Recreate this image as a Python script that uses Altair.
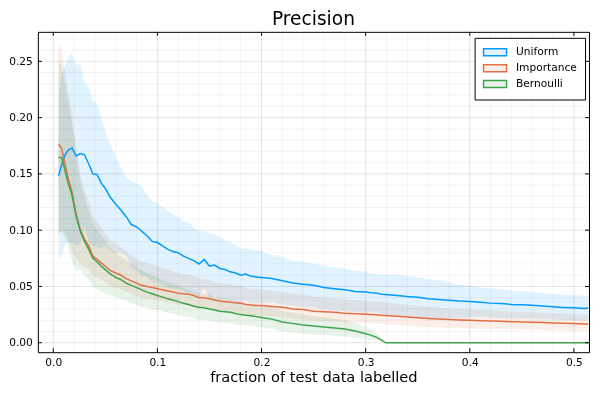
import altair as alt
import pandas as pd

# ---------------- data ----------------
x_frac = [0.005, 0.008, 0.011, 0.014, 0.018, 0.022, 0.026, 0.030, 0.034, 0.038,
          0.042, 0.046, 0.050, 0.055, 0.060, 0.065, 0.070, 0.075, 0.080, 0.085,
          0.090, 0.095, 0.100, 0.105, 0.110, 0.115, 0.120, 0.125, 0.130, 0.135,
          0.140, 0.145, 0.150, 0.155, 0.160, 0.165, 0.170, 0.175, 0.180, 0.185,
          0.190, 0.195, 0.200, 0.21, 0.22, 0.23, 0.24, 0.25, 0.26, 0.27,
          0.28, 0.29, 0.30, 0.305, 0.31, 0.315, 0.319, 0.33, 0.34, 0.35,
          0.36, 0.37, 0.38, 0.39, 0.40, 0.41, 0.42, 0.43, 0.44, 0.45,
          0.46, 0.47, 0.48, 0.49, 0.50, 0.51, 0.514]

uniform_mean = [0.148, 0.158, 0.166, 0.171, 0.173, 0.166, 0.168, 0.167, 0.159, 0.150,
                0.1495, 0.142, 0.137, 0.129, 0.123, 0.118, 0.112, 0.105, 0.103, 0.099,
                0.095, 0.090, 0.089, 0.086, 0.083, 0.081, 0.080, 0.077, 0.075, 0.073,
                0.070, 0.074, 0.068, 0.069, 0.066, 0.065, 0.063, 0.062, 0.060, 0.061,
                0.059, 0.0585, 0.058, 0.057, 0.055, 0.053, 0.052, 0.051, 0.049, 0.048,
                0.047, 0.0455, 0.045, 0.0445, 0.0443, 0.043, 0.0428, 0.042, 0.041, 0.0405,
                0.039, 0.0385, 0.0378, 0.037, 0.0366, 0.036, 0.0352, 0.0348, 0.034, 0.0337,
                0.0333, 0.0327, 0.032, 0.0314, 0.031, 0.0305, 0.031]
# symmetric half-width of the Uniform ribbon
uniform_sd = [0.074, 0.080, 0.080, 0.082, 0.084, 0.080, 0.080, 0.064, 0.069, 0.064,
              0.064, 0.058, 0.051, 0.047, 0.043, 0.038, 0.035, 0.038, 0.039, 0.040,
              0.036, 0.036, 0.035, 0.035, 0.034, 0.033, 0.032, 0.031, 0.032, 0.029,
              0.029, 0.025, 0.029, 0.027, 0.028, 0.026, 0.026, 0.025, 0.024, 0.023,
              0.024, 0.023, 0.023, 0.021, 0.021, 0.020, 0.020, 0.0195, 0.019, 0.019,
              0.019, 0.018, 0.0185, 0.017, 0.017, 0.0175, 0.0177, 0.0186, 0.018, 0.0175,
              0.0174, 0.017, 0.016, 0.0145, 0.014, 0.013, 0.013, 0.0128, 0.0125, 0.012,
              0.0117, 0.0115, 0.0113, 0.0112, 0.0111, 0.0112, 0.011]

importance_mean = [0.1766, 0.1725, 0.160, 0.147, 0.134, 0.114, 0.100, 0.092, 0.086, 0.077,
                   0.074, 0.071, 0.068, 0.064, 0.062, 0.060, 0.057, 0.055, 0.053, 0.051,
                   0.050, 0.049, 0.048, 0.047, 0.046, 0.045, 0.044, 0.0435, 0.043, 0.042,
                   0.040, 0.040, 0.039, 0.038, 0.037, 0.0365, 0.036, 0.0355, 0.035, 0.034,
                   0.0335, 0.033, 0.033, 0.0322, 0.0315, 0.030, 0.0295, 0.028, 0.0275, 0.027,
                   0.0262, 0.0257, 0.0253, 0.025, 0.0248, 0.0245, 0.0243, 0.0235, 0.0228, 0.0222,
                   0.0216, 0.0212, 0.0207, 0.0203, 0.020, 0.0196, 0.0193, 0.019, 0.0187, 0.0184,
                   0.0182, 0.0179, 0.0176, 0.0173, 0.017, 0.0166, 0.0165]
# ribbon extent above / below the Importance mean
importance_up = [0.090, 0.088, 0.083, 0.078, 0.070, 0.060, 0.050, 0.044, 0.040, 0.036,
                 0.033, 0.031, 0.029, 0.027, 0.026, 0.025, 0.024, 0.023, 0.022, 0.0215,
                 0.021, 0.0205, 0.020, 0.0195, 0.019, 0.0186, 0.0182, 0.0178, 0.0175, 0.0172,
                 0.017, 0.0167, 0.0165, 0.0162, 0.016, 0.0157, 0.0155, 0.0153, 0.0151, 0.0149,
                 0.0147, 0.0146, 0.0145, 0.0142, 0.0139, 0.0136, 0.0133, 0.013, 0.0128, 0.0126,
                 0.0124, 0.0122, 0.012, 0.0119, 0.0118, 0.0117, 0.0116, 0.0113, 0.011, 0.0106,
                 0.0102, 0.0098, 0.0097, 0.0096, 0.0095, 0.0094, 0.0093, 0.0092, 0.0091, 0.009,
                 0.0089, 0.0088, 0.0087, 0.0086, 0.0086, 0.0085, 0.0085]
importance_down = [0.080, 0.072, 0.062, 0.055, 0.052, 0.040, 0.030, 0.025, 0.021, 0.018,
                   0.016, 0.015, 0.0145, 0.014, 0.013, 0.0125, 0.012, 0.0118, 0.0115, 0.0112,
                   0.011, 0.0108, 0.0105, 0.0104, 0.0103, 0.0102, 0.0101, 0.010, 0.0099, 0.0098,
                   0.0097, 0.0096, 0.0095, 0.0095, 0.0094, 0.0094, 0.0093, 0.0093, 0.0092, 0.0092,
                   0.0091, 0.0091, 0.009, 0.0089, 0.0088, 0.0087, 0.0086, 0.0085, 0.0084, 0.0083,
                   0.0082, 0.0081, 0.008, 0.008, 0.0079, 0.0079, 0.0078, 0.0078, 0.0077, 0.0077,
                   0.0076, 0.0075, 0.0074, 0.0073, 0.0072, 0.0071, 0.007, 0.0069, 0.0068, 0.0068,
                   0.0067, 0.0066, 0.0065, 0.0064, 0.0063, 0.0062, 0.006]

bernoulli_mean = [0.1645, 0.1645, 0.154, 0.143, 0.131, 0.112, 0.099, 0.090, 0.083, 0.075,
                  0.072, 0.068, 0.065, 0.061, 0.058, 0.056, 0.053, 0.051, 0.049, 0.047,
                  0.045, 0.0435, 0.042, 0.0405, 0.039, 0.038, 0.0365, 0.035, 0.034, 0.0325,
                  0.0315, 0.031, 0.030, 0.029, 0.028, 0.0275, 0.027, 0.026, 0.025, 0.0245,
                  0.024, 0.0232, 0.0225, 0.021, 0.0185, 0.0172, 0.0158, 0.0148, 0.014, 0.013,
                  0.0122, 0.0105, 0.008, 0.0068, 0.005, 0.0025, 0.0, 0.0, 0.0, 0.0,
                  0.0, 0.0, 0.0, 0.0, 0.0, 0.0, 0.0, 0.0, 0.0, 0.0,
                  0.0, 0.0, 0.0, 0.0, 0.0, 0.0, 0.0]
bernoulli_up = [0.085, 0.083, 0.078, 0.072, 0.064, 0.054, 0.045, 0.039, 0.035, 0.032,
                0.029, 0.027, 0.025, 0.023, 0.022, 0.021, 0.020, 0.019, 0.018, 0.0175,
                0.017, 0.0165, 0.016, 0.0155, 0.015, 0.0146, 0.0142, 0.0138, 0.0134, 0.013,
                0.0128, 0.0126, 0.0124, 0.0122, 0.012, 0.0118, 0.0116, 0.0114, 0.0112, 0.011,
                0.0108, 0.0107, 0.0106, 0.0103, 0.010, 0.0097, 0.0094, 0.009, 0.0087, 0.0084,
                0.008, 0.0072, 0.006, 0.005, 0.0038, 0.002, 0.0, 0.0, 0.0, 0.0,
                0.0, 0.0, 0.0, 0.0, 0.0, 0.0, 0.0, 0.0, 0.0, 0.0,
                0.0, 0.0, 0.0, 0.0, 0.0, 0.0, 0.0]
bernoulli_down = [0.068, 0.066, 0.060, 0.056, 0.059, 0.048, 0.034, 0.030, 0.027, 0.025,
                  0.024, 0.0225, 0.021, 0.019, 0.0175, 0.017, 0.016, 0.016, 0.0155, 0.015,
                  0.0145, 0.014, 0.013, 0.0127, 0.0124, 0.0121, 0.0118, 0.0115, 0.0112, 0.011,
                  0.0108, 0.0106, 0.0104, 0.0102, 0.010, 0.0098, 0.0096, 0.0095, 0.0093, 0.0092,
                  0.009, 0.0089, 0.0088, 0.0086, 0.0083, 0.008, 0.0078, 0.0075, 0.0072, 0.007,
                  0.0067, 0.006, 0.005, 0.0042, 0.0032, 0.0016, 0.0, 0.0, 0.0, 0.0,
                  0.0, 0.0, 0.0, 0.0, 0.0, 0.0, 0.0, 0.0, 0.0, 0.0,
                  0.0, 0.0, 0.0, 0.0, 0.0, 0.0, 0.0]

series_names = ["Uniform", "Importance", "Bernoulli"]
line_colors = ["#009AFA", "#E36F47", "#3EA44E"]
band_colors = ["#E0F3FE", "#FCEEE9", "#E8F4EA"]   # line colours at 12 % on white

x_ticks = [0.0, 0.1, 0.2, 0.3, 0.4, 0.5]
y_ticks = [0.0, 0.05, 0.10, 0.15, 0.20, 0.25]
x_minor = [0.02, 0.04, 0.06, 0.08, 0.12, 0.14, 0.16, 0.18, 0.22, 0.24,
           0.26, 0.28, 0.32, 0.34, 0.36, 0.38, 0.42, 0.44, 0.46, 0.48]
y_minor = [0.01, 0.02, 0.03, 0.04, 0.06, 0.07, 0.08, 0.09, 0.11, 0.12,
           0.13, 0.14, 0.16, 0.17, 0.18, 0.19, 0.21, 0.22, 0.23, 0.24,
           0.26, 0.27]

means = [uniform_mean, importance_mean, bernoulli_mean]
ups = [uniform_sd, importance_up, bernoulli_up]
downs = [uniform_sd, importance_down, bernoulli_down]
for arr in means + ups + downs:
    assert len(arr) == len(x_frac), len(arr)

rows = []
for name, m, u, d in zip(series_names, means, ups, downs):
    for xv, mv, uv, dv in zip(x_frac, m, u, d):
        rows.append({"series": name, "x": xv, "mean": mv, "lo": mv - dv, "hi": mv + uv})
df = pd.DataFrame(rows)

# ---------------- chart ----------------
W, H = 554, 322
FONT = "DejaVu Sans"
xs = alt.Scale(domain=[-0.0148, 0.5145], nice=False, zero=False)
ys = alt.Scale(domain=[-0.0084, 0.2762], nice=False, zero=False)

X_AXIS = alt.Axis(
    values=x_ticks, format=".1f", title="fraction of test data labelled",
    grid=False, ticks=False, tickSize=0, domain=False, labelFlush=False,
    labelOverlap=False, labelPadding=5, titleY=29, titleBaseline="alphabetic",
    labelFont=FONT, labelFontSize=10.7, labelColor="black",
    titleFont=FONT, titleFontSize=14.7, titleFontWeight="normal", titleColor="black")
Y_AXIS = alt.Axis(
    values=y_ticks, format=".2f", title="", grid=False, ticks=False,
    tickSize=0, domain=False, labelFlush=False, labelOverlap=False,
    labelPadding=5.5, labelFont=FONT, labelFontSize=10.7, labelColor="black")


def xq(field):
    return alt.X(field, type="quantitative", scale=xs, axis=X_AXIS)


def yq(field):
    return alt.Y(field, type="quantitative", scale=ys, axis=Y_AXIS)


def make_legend():
    return alt.Legend(
        title=None, orient="none", legendX=439, legendY=6, padding=8,
        strokeColor="black", fillColor="white", cornerRadius=0,
        symbolType="M-1,-0.64L3.2,-0.64L3.2,0.64L-1,0.64Z", symbolSize=121,
        labelFont=FONT, labelFontSize=10.7, labelColor="black", labelOffset=20.6,
        rowPadding=1, symbolStrokeWidth=1.5,
    )


tx = pd.DataFrame({"v": x_ticks})
ty = pd.DataFrame({"v": y_ticks})

minor_x = alt.Chart(pd.DataFrame({"v": x_minor})).mark_rule(
    color="black", strokeOpacity=0.05, strokeWidth=1).encode(x=xq("v"))
minor_y = alt.Chart(pd.DataFrame({"v": y_minor})).mark_rule(
    color="black", strokeOpacity=0.05, strokeWidth=1).encode(y=yq("v"))
major_x = alt.Chart(tx).mark_rule(
    color="black", strokeOpacity=0.11, strokeWidth=1).encode(x=xq("v"))
major_y = alt.Chart(ty).mark_rule(
    color="black", strokeOpacity=0.11, strokeWidth=1).encode(y=yq("v"))

bands = alt.Chart(df).mark_area(blend="multiply").encode(
    x=xq("x"), y=yq("lo"), y2="hi:Q",
    fill=alt.Fill("series:N", scale=alt.Scale(domain=series_names, range=band_colors),
                  legend=make_legend()),
)

lines = alt.Chart(df).mark_line(strokeWidth=1.5).encode(
    x=xq("x"), y=yq("mean"),
    stroke=alt.Stroke("series:N", scale=alt.Scale(domain=series_names, range=line_colors),
                      legend=make_legend()),
)

tick_b = alt.Chart(tx).mark_rule(color="black", strokeWidth=1).encode(
    x=xq("v"), y=alt.value(H), y2=alt.value(H - 4))
tick_t = alt.Chart(tx).mark_rule(color="black", strokeWidth=1).encode(
    x=xq("v"), y=alt.value(0), y2=alt.value(4))
tick_l = alt.Chart(ty).mark_rule(color="black", strokeWidth=1).encode(
    y=yq("v"), x=alt.value(0), x2=alt.value(4))
tick_r = alt.Chart(ty).mark_rule(color="black", strokeWidth=1).encode(
    y=yq("v"), x=alt.value(W), x2=alt.value(W - 4))

chart = alt.layer(
    minor_x, minor_y, major_x, major_y, bands, lines, tick_b, tick_t, tick_l, tick_r
).properties(
    width=W, height=H,
    padding={"left": 0, "top": 0, "right": 0, "bottom": 0},
    background="white",
    title=alt.TitleParams(
        "Precision", font=FONT, fontSize=18.7, fontWeight="normal", color="black",
        offset=3, anchor="middle"),
).configure_view(
    stroke="black", strokeWidth=1
)

chart.save("out.html", embed_options={"renderer": "svg", "actions": False})
